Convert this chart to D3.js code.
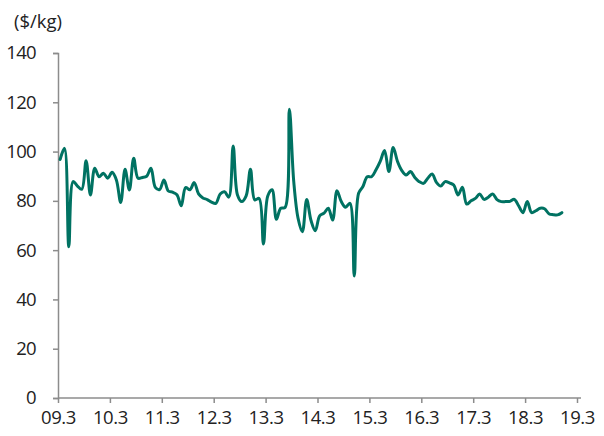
<!DOCTYPE html>
<html>
<head>
<meta charset="utf-8">
<script src="https://cdn.jsdelivr.net/npm/d3@7/dist/d3.min.js"></script>
<style>
  html, body { margin: 0; padding: 0; background: #fff; }
  text { font-family: "Open Sans", "Noto Sans", sans-serif; fill: #222; }
</style>
</head>
<body>
<svg id="chart" width="604" height="436"></svg>
<script>
// Monthly price ($/kg), Mar 2009 onward
const prices = [
  96.8, 101.3, 61.4, 87.8, 86, 84.7, 96.3, 82.4, 93.2, 89.8,
  91.2, 89.2, 91.6, 88.5, 79.3, 92.8, 84.4, 97.3, 89.2, 89.5,
  90, 93.2, 85.5, 84.6, 88.5, 84, 83.5, 82.5, 78, 85.4,
  84.5, 87.4, 82.8, 81.2, 80.5, 79.5, 79, 82.8, 83.7, 81.5,
  102.3, 82.4, 79.7, 82, 92.8, 80.4, 81, 62.5, 82, 84.5,
  72.5, 77, 77.3, 117.2, 88, 73, 67.5, 80.6, 72, 67.9,
  73.9, 75, 77, 72.2, 84.1, 79.7, 77.4, 79, 49.5, 83.1,
  85.8, 89.8, 89.8, 92.5, 96, 100.4, 91.9, 101.7, 96, 92.3,
  90.5, 91.9, 89.5, 87.8, 87.1, 89.2, 90.9, 87.5, 86, 87.8,
  87.3, 86.4, 82.4, 85.5, 78.7, 80, 81, 82.8, 80.6, 81.5,
  82.8, 80.5, 79.7, 79.7, 79.8, 80.6, 78, 75.2, 79.7, 75.2,
  76, 77, 76.8, 74.8, 74.4, 74.3, 75.2
];
const xTickLabels = ["09.3","10.3","11.3","12.3","13.3","14.3","15.3","16.3","17.3","18.3","19.3"];
const yTicks = [0, 20, 40, 60, 80, 100, 120, 140];
const unitLabel = "($/kg)";

const svg = d3.select("#chart");
const mLeft = 58, mRight = 577, mTop = 53, mBottom = 398;

const totalMonths = (xTickLabels.length - 1) * 12;
const x = d3.scaleLinear().domain([0, totalMonths]).range([mLeft, mRight]);
const y = d3.scaleLinear().domain([0, 140]).range([mBottom, mTop]);

const axisColor = "#8c8c8c";
const fontSize = "18.5px";
const textColor = "#222";

// Y axis
const yAxis = svg.append("g").attr("transform", `translate(${mLeft},0)`)
  .call(d3.axisLeft(y).tickValues(yTicks).tickSize(5).tickPadding(16).tickFormat(d3.format("d")));
yAxis.select(".domain").attr("stroke", axisColor).attr("stroke-width", 1.5);
yAxis.selectAll(".tick line").attr("stroke", axisColor).attr("stroke-width", 1.5);
yAxis.selectAll("text").style("font-size", fontSize).style("font-family", "'Open Sans', sans-serif")
  .style("letter-spacing", "-0.7px").attr("fill", textColor).attr("x", -22);

// X axis
const xAxis = svg.append("g").attr("transform", `translate(0,${mBottom})`)
  .call(d3.axisBottom(x).tickValues(xTickLabels.map((d, i) => i * 12)).tickSize(5).tickPadding(8)
    .tickFormat((d, i) => xTickLabels[i]));
xAxis.select(".domain").attr("stroke", axisColor).attr("stroke-width", 1.5)
  .attr("d", `M${mLeft},0H${mRight + 4}`);
xAxis.selectAll(".tick line").attr("stroke", axisColor).attr("stroke-width", 1.5);
xAxis.selectAll("text").style("font-size", fontSize).style("font-family", "'Open Sans', sans-serif")
  .style("letter-spacing", "-0.4px").attr("fill", textColor);

// Unit label
svg.append("text").attr("x", 14).attr("y", 28).style("font-size", fontSize)
  .attr("fill", textColor).text(unitLabel);

// Line
const line = d3.line()
  .x((d, i) => x(i + 0.5))
  .y(d => y(d))
  .curve(d3.curveCatmullRom.alpha(0.5));

svg.append("path").datum(prices)
  .attr("d", line)
  .attr("fill", "none")
  .attr("stroke", "#007262")
  .attr("stroke-width", 3)
  .attr("stroke-linejoin", "round")
  .attr("stroke-linecap", "round");
</script>
</body>
</html>
